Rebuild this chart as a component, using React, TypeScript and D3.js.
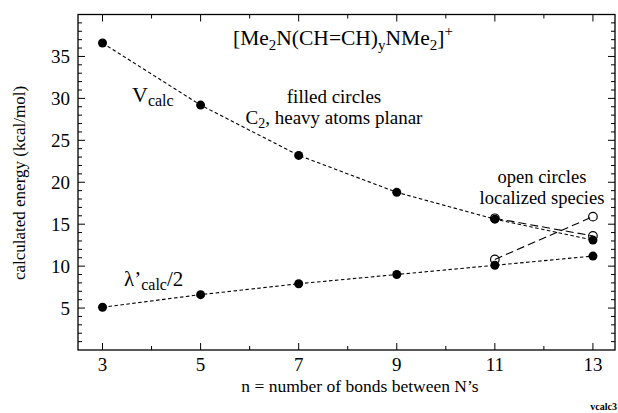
import { useEffect, useRef } from 'react';
import * as d3 from 'd3';

// bond counts and calculated energies (kcal/mol)
const nValues = [3, 5, 7, 9, 11, 13];
const vCalc = [36.6, 29.2, 23.2, 18.8, 15.6, 13.1];
const lambdaHalf = [5.1, 6.6, 7.9, 9.0, 10.1, 11.2];

// localized species (open circles)
const localizedN = [11, 13];
const localizedV = [15.7, 13.6];
const localizedLambda = [10.8, 15.9];

const xTicks = [3, 5, 7, 9, 11, 13];
const yTicks = [5, 10, 15, 20, 25, 30, 35];

const FONT = '"Liberation Serif", "DejaVu Serif", serif';

const App = () => {
  const svgRef = useRef<SVGSVGElement>(null);
  const width = 618;
  const height = 413;
  const margin = { top: 14.5, right: 3, bottom: 63, left: 78 };

  useEffect(() => {
    if (!svgRef.current) return;
    const svg = d3.select(svgRef.current);
    svg.selectAll('*').remove();

    const x = d3.scaleLinear().domain([2.5, 13.45]).range([margin.left, width - margin.right]);
    const y = d3.scaleLinear().domain([0, 40]).range([height - margin.bottom, margin.top]);
    const [x0, x1] = x.range();
    const [y0, y1] = y.range();

    // frame
    svg.append('rect')
      .attr('x', x0).attr('y', y1)
      .attr('width', x1 - x0).attr('height', y0 - y1)
      .attr('fill', 'none').attr('stroke', '#000').attr('stroke-width', 1.3);

    // x ticks (bottom up, top down)
    d3.range(3, 14, 1).forEach(v => {
      const len = v % 2 === 1 ? 7 : 4;
      svg.append('line').attr('x1', x(v)).attr('x2', x(v))
        .attr('y1', y0).attr('y2', y0 - len).attr('stroke', '#000');
      svg.append('line').attr('x1', x(v)).attr('x2', x(v))
        .attr('y1', y1).attr('y2', y1 + len).attr('stroke', '#000');
    });

    // y ticks (left and right, both inward)
    d3.range(1, 40, 1).forEach(v => {
      const len = v % 5 === 0 ? 7 : 4;
      svg.append('line').attr('x1', x0).attr('x2', x0 + len)
        .attr('y1', y(v)).attr('y2', y(v)).attr('stroke', '#000');
      svg.append('line').attr('x1', x1).attr('x2', x1 - len)
        .attr('y1', y(v)).attr('y2', y(v)).attr('stroke', '#000');
    });

    svg.append('g').selectAll('text').data(xTicks).enter().append('text')
      .attr('x', d => x(d)).attr('y', y0 + 21)
      .attr('text-anchor', 'middle')
      .style('font-family', FONT).style('font-size', '19px')
      .text(d => d);

    svg.append('g').selectAll('text').data(yTicks).enter().append('text')
      .attr('x', x0 - 8).attr('y', d => y(d) + 6.5)
      .attr('text-anchor', 'end')
      .style('font-family', FONT).style('font-size', '19px')
      .text(d => d);

    // axis titles
    svg.append('text')
      .attr('x', 360).attr('y', 392)
      .attr('text-anchor', 'middle')
      .style('font-family', FONT).style('font-size', '17.5px')
      .text('n = number of bonds between N\u2019s');

    svg.append('text')
      .attr('transform', 'translate(25,183) rotate(-90)')
      .attr('text-anchor', 'middle')
      .style('font-family', FONT).style('font-size', '17px')
      .text('calculated energy (kcal/mol)');

    // lines
    const line = d3.line<[number, number]>().x(d => x(d[0])).y(d => y(d[1]));
    const vPts = nValues.map((n, i) => [n, vCalc[i]] as [number, number]);
    const lPts = nValues.map((n, i) => [n, lambdaHalf[i]] as [number, number]);
    const vLoc = localizedN.map((n, i) => [n, localizedV[i]] as [number, number]);
    const lLoc = localizedN.map((n, i) => [n, localizedLambda[i]] as [number, number]);

    [vPts, lPts].forEach(pts => {
      svg.append('path').attr('d', line(pts)).attr('fill', 'none')
        .attr('stroke', '#000').attr('stroke-width', 1.1).attr('stroke-dasharray', '3.5,2.5');
    });
    [vLoc, lLoc].forEach(pts => {
      svg.append('path').attr('d', line(pts)).attr('fill', 'none')
        .attr('stroke', '#000').attr('stroke-width', 1.1).attr('stroke-dasharray', '8,4');
    });

    // points
    [...vPts, ...lPts].forEach(p => {
      svg.append('circle').attr('cx', x(p[0])).attr('cy', y(p[1])).attr('r', 4.5).attr('fill', '#000');
    });
    [...vLoc, ...lLoc].forEach(p => {
      svg.append('circle').attr('cx', x(p[0])).attr('cy', y(p[1])).attr('r', 4.3)
        .attr('fill', 'none').attr('stroke', '#000').attr('stroke-width', 1.2);
    });

    // title formula
    const title = svg.append('text').attr('x', 233).attr('y', 45)
      .style('font-family', FONT).style('font-size', '21.5px');
    const parts: [string, number][] = [
      ['[Me', 0], ['2', 5], ['N(CH=CH)', -5], ['y', 5], ['NMe', -5], ['2', 5], [']', -5], ['+', -9],
    ];
    parts.forEach(([t, dy], i) => {
      const small = i % 2 === 1 || t === '+';
      title.append('tspan').attr('dy', dy)
        .style('font-size', small ? '15px' : '21.5px').text(t);
    });

    const vLabel = svg.append('text').attr('x', 132).attr('y', 102)
      .style('font-family', FONT).style('font-size', '22px');
    vLabel.append('tspan').text('V');
    vLabel.append('tspan').attr('dy', 4).style('font-size', '16px').text('calc');

    const lLabel = svg.append('text').attr('x', 124).attr('y', 286)
      .style('font-family', FONT).style('font-size', '21px');
    lLabel.append('tspan').text('\u03bb\u2019');
    lLabel.append('tspan').attr('dy', 4).style('font-size', '16px').text('calc');
    lLabel.append('tspan').attr('dy', -4).text('/2');

    // notes
    const filled = svg.append('text').attr('x', 334).attr('y', 103)
      .attr('text-anchor', 'middle')
      .style('font-family', FONT).style('font-size', '19px');
    filled.append('tspan').attr('x', 334).text('filled circles');
    const c2 = svg.append('text').attr('x', 334).attr('y', 124)
      .attr('text-anchor', 'middle')
      .style('font-family', FONT).style('font-size', '19px');
    c2.append('tspan').text('C');
    c2.append('tspan').attr('dy', 4).style('font-size', '14px').text('2');
    c2.append('tspan').attr('dy', -4).text(', heavy atoms planar');

    [['open circles', 183], ['localized species', 204]].forEach(([t, yy]) => {
      svg.append('text').attr('x', 542).attr('y', yy as number)
        .attr('text-anchor', 'middle')
        .style('font-family', FONT).style('font-size', '18.5px')
        .text(t as string);
    });

    svg.append('text').attr('x', 617).attr('y', 410)
      .attr('text-anchor', 'end')
      .style('font-family', FONT).style('font-size', '10px').style('font-weight', 'bold')
      .text('vcalc3');
  }, []);

  return (
    <svg
      ref={svgRef}
      width={width}
      height={height}
      style={{ position: 'absolute', left: 0, top: 0, background: '#fff' }}
    />
  );
};

export default App;
